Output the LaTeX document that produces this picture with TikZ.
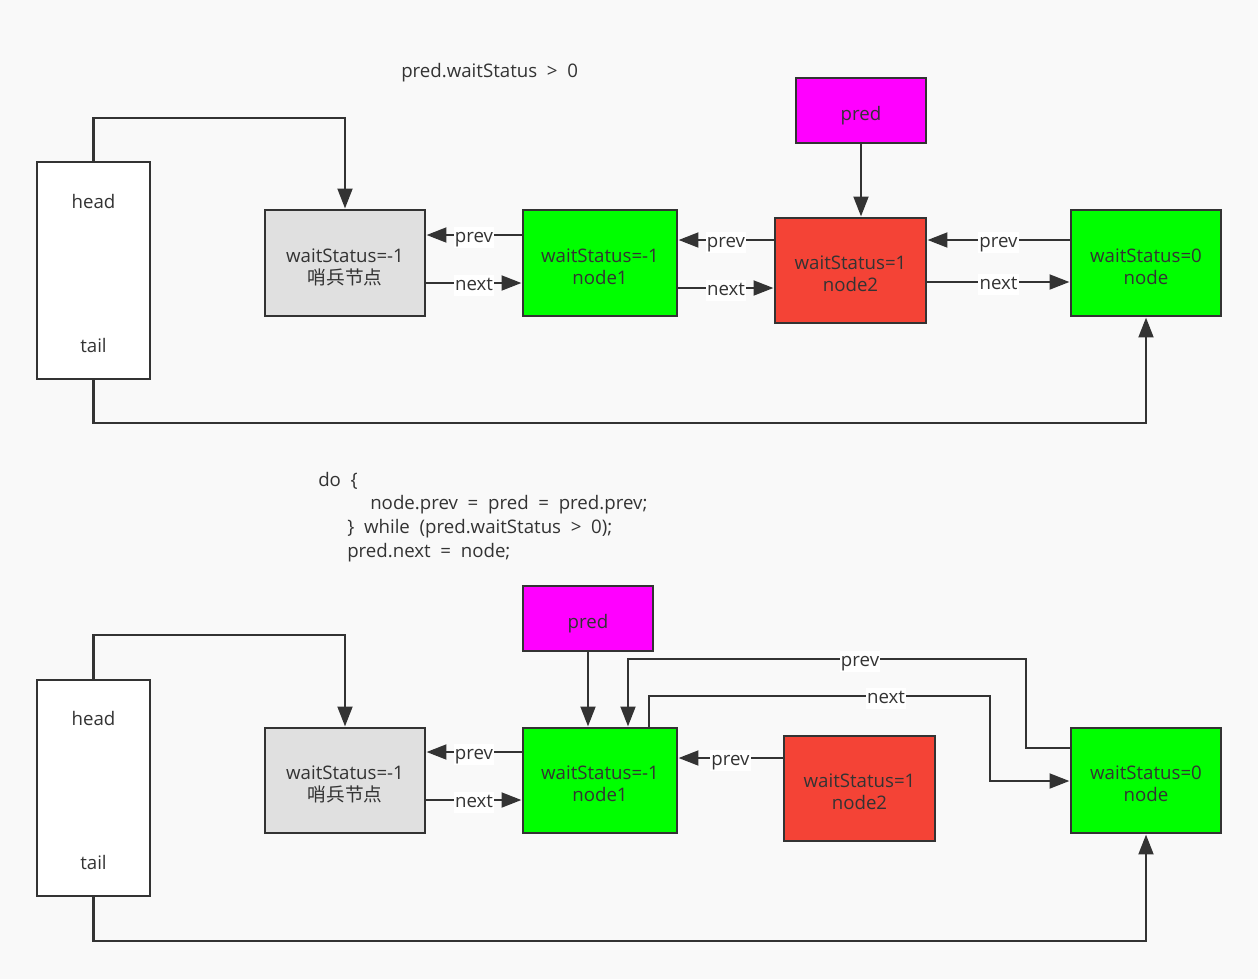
\documentclass[tikz,border=0pt]{standalone}
\usepackage{fontspec}
\setmainfont{Open Sans}
\newfontfamily\cjk{Noto Sans CJK SC}
\usetikzlibrary{arrows.meta}
\definecolor{ink}{HTML}{333333}
\definecolor{bg}{HTML}{F9F9F9}
\definecolor{gr}{HTML}{00FF00}
\definecolor{rd}{HTML}{F44336}
\definecolor{mg}{HTML}{FF00FF}
\definecolor{sg}{HTML}{E0E0E0}
\newcommand\tln[2]{\raisebox{0.75pt}[0pt][0pt]{\begin{tabular}[t]{@{}c@{}}#1\\#2\end{tabular}}}
\newcommand\dn[1]{\raisebox{-7.5pt}[0pt][0pt]{#1}}
\newcommand\widesp{\spaceskip=0.52em\relax}
\tikzset{
  bx/.style 2 args={draw=ink, line width=2.2pt, minimum width=#1*0.75pt, minimum height=#2*0.75pt, inner sep=0pt, text=ink, font=\fontsize{14pt}{16.5pt}\selectfont},
  txt/.style={text=ink, font=\fontsize{14pt}{16.5pt}\selectfont, inner sep=0pt},
  code/.style={txt, anchor=west, font={\fontsize{14pt}{16.5pt}\selectfont\widesp}},
  ln/.style={draw=ink, line width=2.2pt},
  arr/.style={ln, -{Triangle[length=15pt,width=11pt]}},
  lbl/.style={fill=white, text=ink, inner sep=1pt, text height=10pt, text depth=3.5pt, yshift=-2pt, font=\fontsize{14pt}{16pt}\selectfont},
}
\begin{document}
\begin{tikzpicture}[x=0.75pt,y=-0.75pt]
\fill[bg] (0,0) rectangle (1258,979);
\useasboundingbox (0,0) rectangle (1258,979);

% ---------- top ----------
\node[code] (title) at (401,73) {pred.waitStatus > 0};

\node[bx={113}{217}, fill=white] (ht1) at (93.5,270.5) {};
\node[txt] (h1) at (93.5,201) {head};
\node[txt] (t1) at (93.5,345) {tail};
\node[bx={160}{106}, fill=sg] (s1) at (345,263) {\tln{waitStatus=-1}{\cjk 哨兵节点}};
\node[bx={154}{106}, fill=gr] (a1) at (600,263) {\tln{waitStatus=-1}{node1}};
\node[bx={151}{105}, fill=rd] (b1) at (850.5,270.5) {\tln{waitStatus=1}{node2}};
\node[bx={150}{106}, fill=gr] (c1) at (1146,263) {\tln{waitStatus=0}{node}};
\node[bx={130}{65}, fill=mg] (p1) at (861,110.5) {\dn{pred}};

\coordinate (ya) at (0,118);
\coordinate (yb) at (0,423);
\coordinate (y235) at (0,235);
\coordinate (y283) at (0,283);
\coordinate (y240) at (0,240);
\coordinate (y288) at (0,288);
\coordinate (y282) at (0,282);

\draw[arr] (ht1.north) -- (ht1.north |- ya) -| (s1.north);
\draw[arr] (ht1.south) -- (ht1.south |- yb) -| (c1.south);
\draw[arr] (a1.west |- y235) -- node[lbl]{prev} (s1.east |- y235);
\draw[arr] (s1.east |- y283) -- node[lbl]{next} (a1.west |- y283);
\draw[arr] (b1.west |- y240) -- node[lbl]{prev} (a1.east |- y240);
\draw[arr] (a1.east |- y288) -- node[lbl]{next} (b1.west |- y288);
\draw[arr] (c1.west |- y240) -- node[lbl]{prev} (b1.east |- y240);
\draw[arr] (b1.east |- y282) -- node[lbl]{next} (c1.west |- y282);
\draw[arr] (p1.south) -- (p1.south |- b1.north);

% ---------- code ----------
\node[code] (c0) at (318,481) {do \{};
\node[code] (c1t) at (370,505) {node.prev = pred = pred.prev;};
\node[code] (c2t) at (347,529) {\} while (pred.waitStatus > 0);};
\node[code] (c3t) at (347,553) {pred.next = node;};

% ---------- bottom ----------
\node[bx={113}{216}, fill=white] (ht2) at (93.5,788) {};
\node[txt] (h2) at (93.5,718) {head};
\node[txt] (t2) at (93.5,862) {tail};
\node[bx={160}{105}, fill=sg] (s2) at (345,780.5) {\tln{waitStatus=-1}{\cjk 哨兵节点}};
\node[bx={154}{105}, fill=gr] (a2) at (600,780.5) {\tln{waitStatus=-1}{node1}};
\node[bx={151}{105}, fill=rd] (b2) at (859.5,788.5) {\tln{waitStatus=1}{node2}};
\node[bx={150}{105}, fill=gr] (c2) at (1146,780.5) {\tln{waitStatus=0}{node}};
\node[bx={130}{65}, fill=mg] (p2) at (588,618.5) {\dn{pred}};

\coordinate (yc) at (0,635);
\coordinate (yd) at (0,941);
\coordinate (y752) at (0,752);
\coordinate (y800) at (0,800);
\coordinate (y758) at (0,758);
\coordinate (y748) at (0,748);
\coordinate (y781) at (0,781);
\coordinate (k1) at (1026,659);
\coordinate (k2) at (628,659);
\coordinate (k3) at (649,696);
\coordinate (k4) at (990,696);

\draw[arr] (ht2.north) -- (ht2.north |- yc) -| (s2.north);
\draw[arr] (ht2.south) -- (ht2.south |- yd) -| (c2.south);
\draw[arr] (a2.west |- y752) -- node[lbl]{prev} (s2.east |- y752);
\draw[arr] (s2.east |- y800) -- node[lbl]{next} (a2.west |- y800);
\draw[arr] (p2.south) -- (p2.south |- a2.north);
\draw[arr] (b2.west |- y758) -- node[lbl]{prev} (a2.east |- y758);
\draw[arr] (c2.west |- y748) -| (k1) -- node[lbl, pos=0.417]{prev} (k2) -- (k2 |- a2.north);
\draw[arr] (k3 |- a2.north) -- (k3) -- node[lbl, pos=0.695]{next} (k4) |- (c2.west |- y781);
\end{tikzpicture}
\end{document}
